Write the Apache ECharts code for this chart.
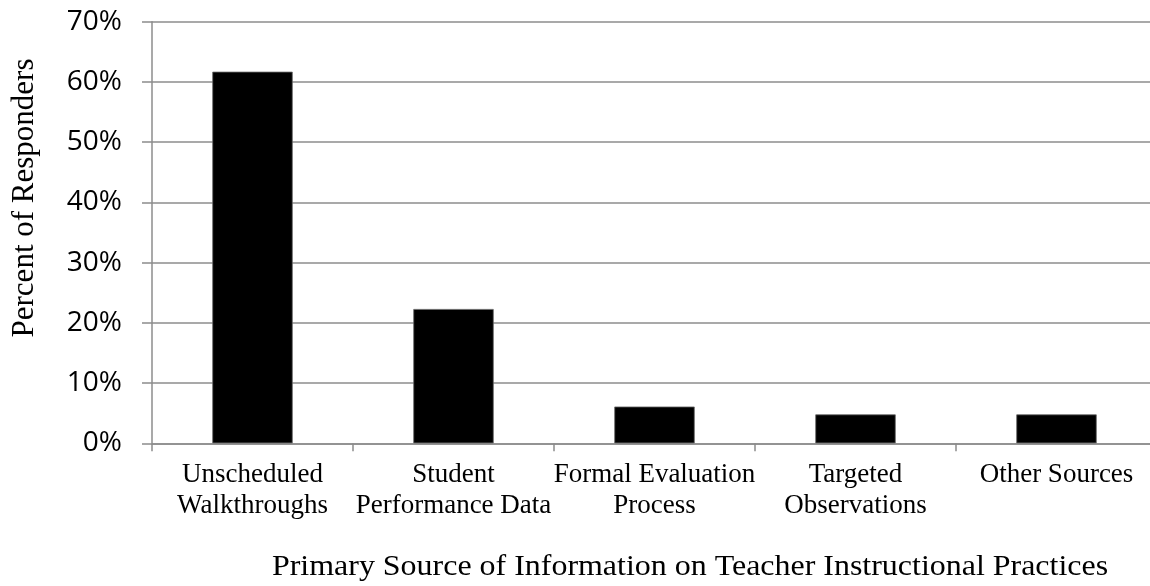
<!DOCTYPE html>
<html>
<head>
<meta charset="utf-8">
<script src="https://cdn.jsdelivr.net/npm/echarts@6/dist/echarts.min.js"></script>
<style>
html,body{margin:0;padding:0;background:#fff;overflow:hidden;}
#chart{width:1157px;height:586px;}
</style>
</head>
<body>
<div id="chart"></div>
<script>
const categories = ['Unscheduled\nWalkthroughs', 'Student\nPerformance Data', 'Formal Evaluation\nProcess', 'Targeted\nObservations', 'Other Sources'];
const values = [61.7, 22.3, 6.1, 4.8, 4.8];
const yTicks = [0, 10, 20, 30, 40, 50, 60, 70];
const yTitle = 'Percent of Responders';
const xTitle = 'Primary Source of Information on Teacher Instructional Practices';

const chart = echarts.init(document.getElementById('chart'), null, {renderer: 'canvas'});
chart.setOption({
  animation: false,
  backgroundColor: '#fff',
  grid: {left: 152, right: 0, top: 21.7, bottom: 586 - 443.3, containLabel: false},
  xAxis: {
    type: 'category',
    data: categories,
    axisLine: {show: true, lineStyle: {color: '#8c8c8c', width: 1.5}},
    axisTick: {show: true, length: 8, lineStyle: {color: '#8c8c8c', width: 1.5}},
    axisLabel: {margin: 16, fontFamily: 'Liberation Serif', fontSize: 27, lineHeight: 31, color: '#000', interval: 0}
  },
  yAxis: {
    type: 'value',
    min: yTicks[0],
    max: yTicks[yTicks.length - 1],
    interval: 10,
    axisLine: {show: true, lineStyle: {color: '#8c8c8c', width: 1.5}},
    axisTick: {show: true, length: 10, lineStyle: {color: '#8c8c8c', width: 1.5}},
    splitLine: {show: true, lineStyle: {color: '#8c8c8c', width: 1.5}},
    axisLabel: {margin: 30, fontFamily: 'Open Sans', fontSize: 28, color: '#000', formatter: v => v + '%'}
  },
  series: [{
    type: 'bar',
    data: values,
    barWidth: '40%',
    itemStyle: {color: '#000', borderColor: '#666', borderWidth: 0.8}
  }],
  graphic: [
    {type: 'text', x: 690, y: 567, scaleX: 1.065, style: {text: xTitle, fontFamily: 'Liberation Serif', fontSize: 30, fill: '#000', align: 'center', verticalAlign: 'middle'}},
    {type: 'text', x: 25, y: 198, rotation: Math.PI / 2, style: {text: yTitle, fontFamily: 'Liberation Serif', fontSize: 31, fill: '#000', align: 'center', verticalAlign: 'middle'}}
  ]
});
</script>
</body>
</html>
